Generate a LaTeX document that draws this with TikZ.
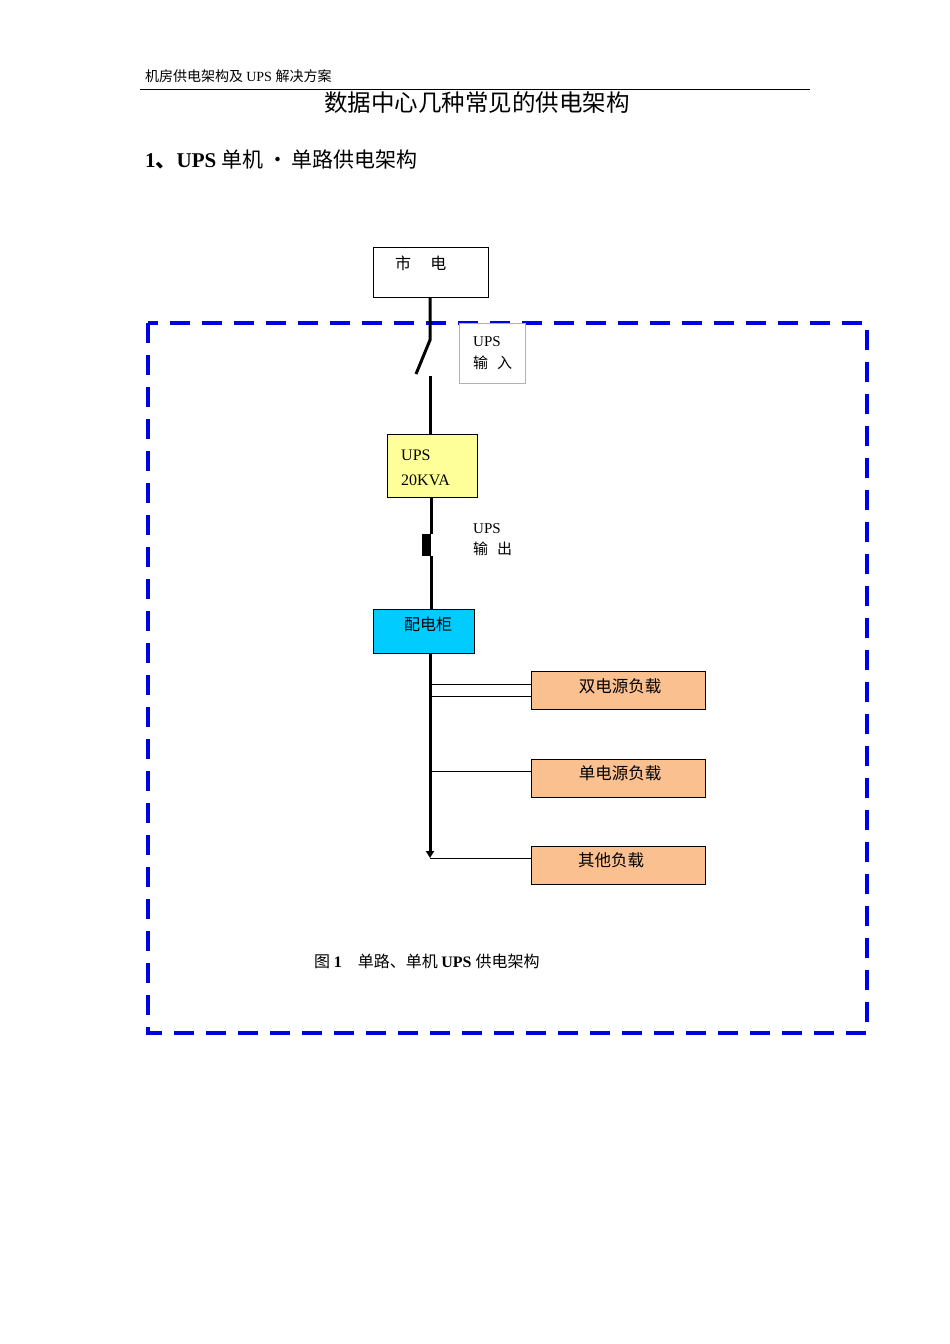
\documentclass[tikz,border=0pt]{standalone}
\usepackage{fontspec}
\setmainfont{Liberation Serif}
\newfontfamily\cjk{Noto Sans CJK SC}
\usetikzlibrary{arrows.meta}
\definecolor{dblue}{RGB}{0,0,230}
\definecolor{ylw}{RGB}{255,255,153}
\definecolor{cyn}{RGB}{0,204,255}
\definecolor{peach}{RGB}{250,192,144}
\tikzset{
 bx/.style={draw,line width=0.8pt,inner sep=0pt},
 load/.style={bx,fill=peach,minimum width=174pt,minimum height=38pt},
 bus/.style={line width=3pt},
 thin/.style={line width=0.7pt},
 t/.style={inner sep=0pt,anchor=west,font=\fontsize{15}{15}\selectfont},
 lt/.style={inner sep=0pt,font=\fontsize{16.5}{16.5}\selectfont},
}
\begin{document}
\begin{tikzpicture}[x=1pt,y=-1pt]
\useasboundingbox (0,0) rectangle (950,1344);
\node[t,font=\fontsize{14}{14}\selectfont] (hdr) at (145,76) {\cjk 机房供电架构及 \rmfamily UPS \cjk 解决方案};
\draw[line width=0.8pt] (140,89) coordinate (h1) -- (810,89) coordinate (h2);
\node[inner sep=0pt,font=\fontsize{23.5}{23.5}\selectfont] (title) at (477,103) {\cjk 数据中心几种常见的供电架构};
\node[t,font=\fontsize{21}{21}\selectfont\bfseries] (sec) at (145,160) {1\cjk 、\rmfamily\bfseries UPS \cjk\mdseries 单机\,·\,单路供电架构};
\draw[dblue,line width=3.5pt,dash pattern=on 20pt off 12pt] (148,323) rectangle (867,1033);
\node[bx,minimum width=115pt,minimum height=50pt] (mains) at (430.5,272) {};
\node[t,font=\fontsize{16}{16}\selectfont] at (395,263) {\cjk 市\hspace{1.2em}电};
\node[draw=gray!60,line width=0.7pt,fill=white,minimum width=66pt,minimum height=60pt] (inbox) at (492,353) {};
\node[t] at (473,342) {UPS};
\node[t] at (473,363) {\cjk 输\hspace{0.6em}入};
\coordinate (s1) at (430,340);
\coordinate (s2) at (416,374);
\coordinate (s3) at (430,376);
\node[bx,fill=ylw,minimum width=90pt,minimum height=63pt] (ups) at (432,465.5) {};
\node[t,font=\fontsize{16}{16}\selectfont] at (401,455) {UPS};
\node[t,font=\fontsize{16}{16}\selectfont] at (401,480) {20KVA};
\draw[bus] (mains.south -| 430,0) -- (s1) -- (s2);
\draw[bus] (s3) -- (ups.north -| 430,0);
\node[fill=black,minimum width=9pt,minimum height=22pt,inner sep=0pt] (brk) at (426,545) {};
\node[t] at (473,529) {UPS};
\node[t] at (473,549) {\cjk 输\hspace{0.6em}出};
\node[bx,fill=cyn,minimum width=101pt,minimum height=44pt] (pdu) at (423.5,631) {};
\node[t,font=\fontsize{16}{16}\selectfont] at (404,624) {\cjk 配电柜};
\draw[bus] (ups.south -| 431,0) -- (431,534);
\draw[bus] (431,556) -- (pdu.north -| 431,0);
\node[load] (l1) at (618,690.5) {};
\node[load] (l2) at (618,778) {};
\node[load] (l3) at (618,865) {};
\node[lt] at (620,686) {\cjk 双电源负载};
\node[lt] at (620,773) {\cjk 单电源负载};
\node[lt] at (611,860) {\cjk 其他负载};
\coordinate (end) at (430,858);
\draw[bus,-{Triangle[length=7pt,width=8pt]}] (pdu.south -| 430,0) -- (end);
\draw[thin] (430,684) -- (l1.west |- 0,684);
\draw[thin] (430,696) -- (l1.west |- 0,696);
\draw[thin] (430,771) -- (l2.west |- 0,771);
\draw[thin] (end) -- (l3.west |- 0,858);
\node[t,font=\fontsize{16}{16}\selectfont] (cap) at (314,961) {\cjk 图 \rmfamily\bfseries 1\quad \cjk\mdseries 单路、单机 \rmfamily\bfseries UPS \cjk\mdseries 供电架构};
\end{tikzpicture}
\end{document}
